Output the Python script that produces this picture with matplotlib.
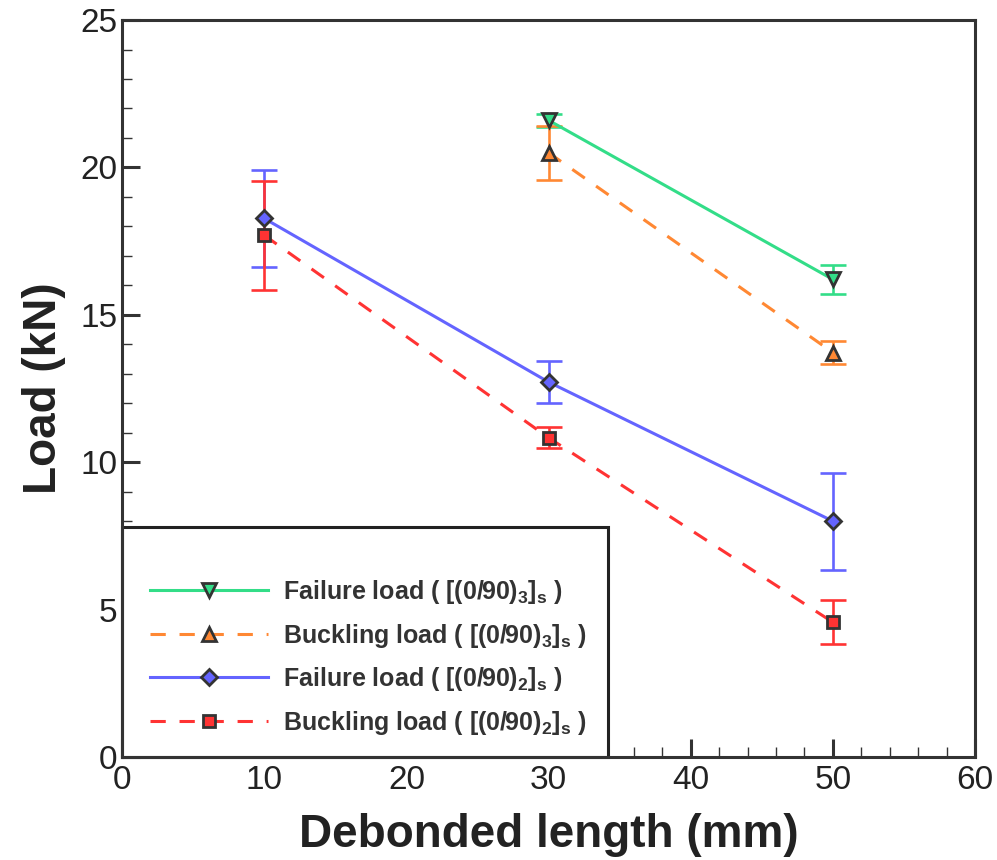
import numpy as np
import matplotlib
matplotlib.use('Agg')
from matplotlib import pyplot as plt
from matplotlib.patches import Rectangle

plt.rcParams['font.family'] = ['Liberation Sans', 'DejaVu Sans']
plt.rcParams['mathtext.fontset'] = 'custom'
plt.rcParams['mathtext.rm'] = 'Liberation Sans'
plt.rcParams['mathtext.bf'] = 'Liberation Sans:bold'

# debonded length (mm)
length = [10, 30, 50]

fail3 = [21.6, 16.2]
fail3_err = [0.22, 0.48]
buck3 = [20.5, 13.72]
buck3_err = [0.92, 0.40]

fail2 = [18.27, 12.72, 8.0]
fail2_err = [1.64, 0.70, 1.65]
buck2 = [17.7, 10.83, 4.57]
buck2_err = [1.85, 0.36, 0.75]

labels = [r'Failure load ( [(0/90)$_\mathbf{3}$]$_\mathbf{s}$ )',
          r'Buckling load ( [(0/90)$_\mathbf{3}$]$_\mathbf{s}$ )',
          r'Failure load ( [(0/90)$_\mathbf{2}$]$_\mathbf{s}$ )',
          r'Buckling load ( [(0/90)$_\mathbf{2}$]$_\mathbf{s}$ )']

green = '#33dd88'
orange = '#ff8833'
blue = '#6464ff'
red = '#ff3333'
edge = '#333333'

fig = plt.figure(figsize=(9.97, 8.6), dpi=100)
ax = fig.add_axes([0.1224, 0.1198, 0.8556, 0.8569])

series = [
    (length[1:], fail3, fail3_err, green, '-', 'v', 10.5),
    (length[1:], buck3, buck3_err, orange, '--', '^', 10.5),
    (length, fail2, fail2_err, blue, '-', 'D', 8.5),
    (length, buck2, buck2_err, red, '--', 's', 8.5),
]

for (x, y, e, c, ls, m, ms), lab in zip(series, labels):
    ax.errorbar(x, y, yerr=e, fmt='none', ecolor=c, elinewidth=1.9,
                capsize=9.5, capthick=1.9, zorder=3)
    line, = ax.plot(x, y, color=c, ls=ls, lw=2.2, marker=m, ms=ms,
                    mfc=c, mec=edge, mew=2, label=lab, zorder=4)
    if ls == '--':
        line.set_dashes((5, 4.5))

ax.set_xlim(0, 60)
ax.set_ylim(0, 25)
ax.set_xticks(np.arange(0, 61, 10))
ax.set_xticks(np.arange(0, 61, 2), minor=True)
ax.set_yticks(np.arange(0, 26, 5))
ax.set_yticks(np.arange(0, 26, 1), minor=True)

ax.tick_params(which='both', direction='in', top=False, right=False,
               colors=edge, labelcolor='#222222', labelsize=24)
ax.tick_params(which='major', length=13, width=2.2)
ax.tick_params(which='minor', length=7, width=1)
ax.tick_params(axis='x', pad=6)

for s in ax.spines.values():
    s.set_linewidth(2.2)
    s.set_color(edge)

ax.set_xlabel('Debonded length (mm)', fontsize=33, fontweight='bold',
              color='#222222', labelpad=12)
ax.set_ylabel('Load (kN)', fontsize=33, fontweight='bold',
              color='#222222', labelpad=10)

# legend box
ax.add_patch(Rectangle((0, 0), 0.57, 0.312, transform=ax.transAxes,
                       facecolor='white', edgecolor='#222222', lw=2.2,
                       zorder=2, clip_on=False))
leg = ax.legend(loc='center left', bbox_to_anchor=(0.033, 0.135),
                frameon=False, borderpad=0, borderaxespad=0,
                handlelength=4.7, handletextpad=0.6, labelspacing=0.62,
                prop={'size': 18, 'weight': 'bold'})
for t in leg.get_texts():
    t.set_color('#333333')

fig.savefig('out.png', dpi=100)
